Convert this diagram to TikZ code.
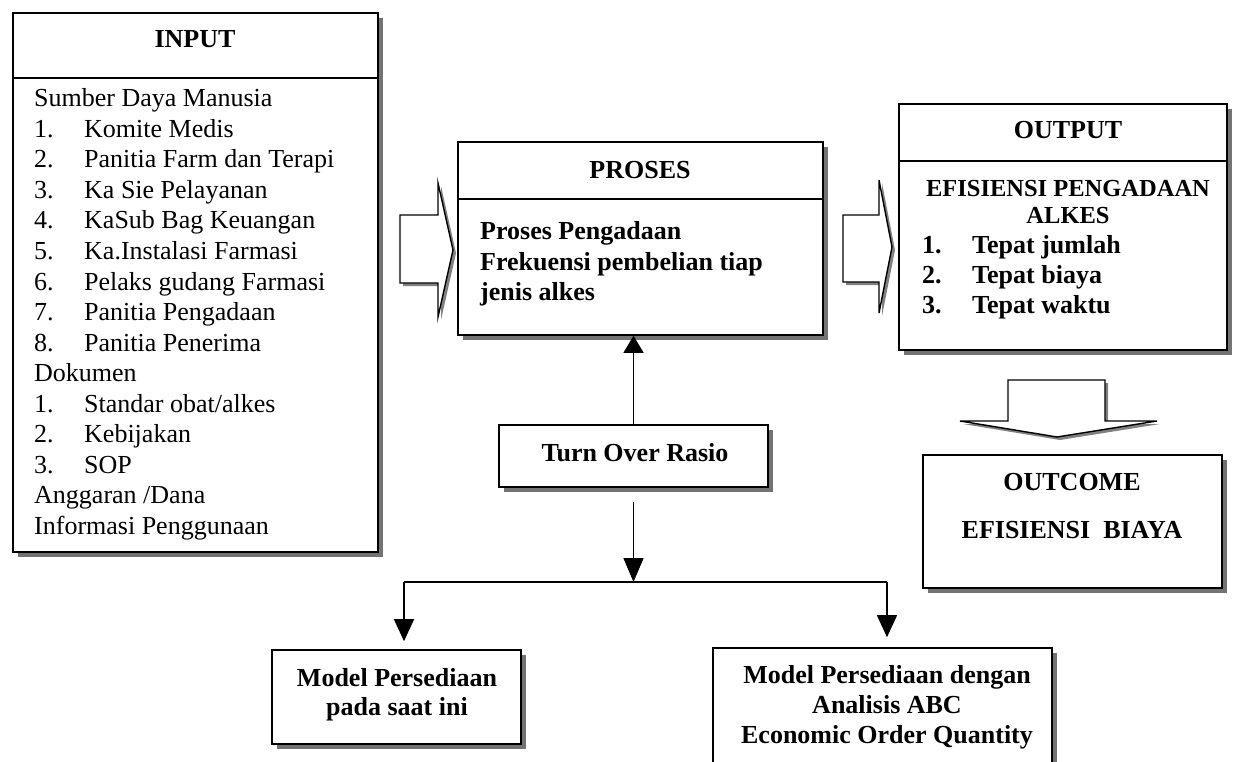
\documentclass[tikz,border=0pt]{standalone}
\usepackage{fontspec}
\setmainfont{Liberation Serif}
\usetikzlibrary{arrows.meta,shadows}
% numbered entry: number in a fixed-width column, then the text
\newcommand{\numitem}[2]{\makebox[50pt][l]{#1}#2}

\begin{document}
\begin{tikzpicture}[x=1pt,y=-1pt,
  every node/.style={inner sep=0pt, font=\fontsize{26}{30.5}\selectfont},
  box/.style={draw, line width=1.6pt, fill=white, inner sep=0pt,
    drop shadow={shadow xshift=5pt, shadow yshift=-5pt, fill=black!55, opacity=1}},
  blockarrow/.style={draw, line width=1.4pt, fill=white, line join=miter,
    drop shadow={shadow xshift=3pt, shadow yshift=-3pt, fill=black!50, opacity=1}},
  hd/.style={anchor=base, font=\fontsize{26}{30.5}\selectfont\bfseries},
  bd/.style={anchor=base west, font=\fontsize{26}{30.5}\selectfont\bfseries},
  rm/.style={anchor=base west},
  link/.style={line width=1.5pt},
  arr/.style={line width=1.5pt, -{Triangle[length=22pt,width=20pt]}}
]
\useasboundingbox (0,0) rectangle (1234,762);
\fill[white] (0,0) rectangle (1234,762);
\clip (0,0) rectangle (1234,762);

% ---------------- boxes ----------------
\node[box, minimum width=365pt, minimum height=539pt] (input)   at (195.5,282.5) {};
\node[box, minimum width=365pt, minimum height=193pt] (proses)  at (640.5,238.5) {};
\node[box, minimum width=328pt, minimum height=246pt] (output)  at (1063,227) {};
\node[box, minimum width=299pt, minimum height=133pt] (outcome) at (1072.5,521.5) {};
\node[box, minimum width=269pt, minimum height=62pt]  (tor)     at (633.5,456) {};
\node[box, minimum width=249pt, minimum height=94pt]  (m1)      at (396.5,697) {};
\node[box, minimum width=339pt, minimum height=127pt] (m2)      at (882.5,711.5) {};

% header rules
\coordinate (ih) at (0,78);
\coordinate (ph) at (0,199);
\coordinate (oh) at (0,161);
\draw[line width=1.6pt] (input.west |- ih) -- (input.east |- ih);
\draw[line width=1.6pt] (proses.west |- ph) -- (proses.east |- ph);
\draw[line width=1.6pt] (output.west |- oh) -- (output.east |- oh);

% ---------------- INPUT ----------------
\node[hd] (inputhd) at (195,48) {INPUT};
\foreach \txt [count=\i from 0] in {
  Sumber Daya Manusia,
  \numitem{1.}{Komite Medis},
  \numitem{2.}{Panitia Farm dan Terapi},
  \numitem{3.}{Ka Sie Pelayanan},
  \numitem{4.}{KaSub Bag Keuangan},
  \numitem{5.}{Ka.Instalasi Farmasi},
  \numitem{6.}{Pelaks gudang Farmasi},
  \numitem{7.}{Panitia Pengadaan},
  \numitem{8.}{Panitia Penerima},
  Dokumen,
  \numitem{1.}{Standar obat/alkes},
  \numitem{2.}{Kebijakan},
  \numitem{3.}{SOP},
  Anggaran /Dana,
  Informasi Penggunaan}
  \node[rm] (in\i) at (34,107+30.5*\i) {\txt};

% ---------------- PROSES ----------------
\node[hd] (proseshd) at (640,179) {PROSES};
\node[bd] (pr1) at (480,240) {Proses Pengadaan};
\node[bd] (pr2) at (480,270) {Frekuensi pembelian tiap};
\node[bd] (pr3) at (480,300) {jenis alkes};

% ---------------- OUTPUT ----------------
\node[hd] (outputhd) at (1068,139) {OUTPUT};
\node[hd, font=\fontsize{24.5}{29}\selectfont\bfseries] (ou1) at (1068,197) {EFISIENSI PENGADAAN};
\node[hd, font=\fontsize{24.5}{29}\selectfont\bfseries] (ou2) at (1068,223) {ALKES};
\node[bd] (ou3) at (922,254) {\numitem{1.}{Tepat jumlah}};
\node[bd] (ou4) at (922,283) {\numitem{2.}{Tepat biaya}};
\node[bd] (ou5) at (922,313) {\numitem{3.}{Tepat waktu}};

% ---------------- OUTCOME ----------------
\node[hd] (outcomehd) at (1072,490) {OUTCOME};
\node[hd] (oc1) at (1072,538) {EFISIENSI\ \ BIAYA};

% ---------------- lower boxes ----------------
\node[hd] (tortxt) at (635,461) {Turn Over Rasio};
\node[hd] (m1a) at (397,686) {Model Persediaan};
\node[hd] (m1b) at (397,715) {pada saat ini};
\node[hd] (m2a) at (887,683) {Model Persediaan dengan};
\node[hd] (m2b) at (887,713) {Analisis ABC};
\node[hd] (m2c) at (887,743) {Economic Order Quantity};

% ---------------- block arrows ----------------
\path[blockarrow] (400,215) -- (438,215) -- (438,183) -- (453,250)
  -- (438,317) -- (438,283) -- (400,283) -- cycle;
\path[blockarrow] (843,215) -- (879,215) -- (879,180) -- (892,247)
  -- (879,313) -- (879,282) -- (843,282) -- cycle;
\path[blockarrow] (1008,380) -- (1105,380) -- (1105,421) -- (1157,421)
  -- (1057,437) -- (960,421) -- (1008,421) -- cycle;

% ---------------- connectors ----------------
\draw[link, -{Triangle[length=17pt,width=20pt]}] (tor.north) -- (tor.north |- proses.south);
\coordinate (split) at (633.5,582);
\coordinate (bl) at (404,582);
\coordinate (br) at (887,582);
\draw[link, -{Triangle[length=24pt,width=20pt]}, shorten <=14pt] (tor.south) -- (split);
\draw[link] (bl) -- (br);
\draw[arr, shorten >=8pt] (bl) -- (bl |- m1.north);
\draw[arr, shorten >=10pt] (br) -- (br |- m2.north);
\end{tikzpicture}
\end{document}
